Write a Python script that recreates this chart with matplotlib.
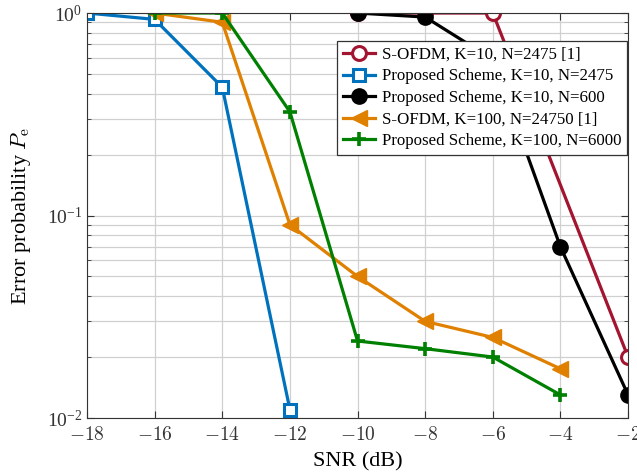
import numpy as np
import matplotlib.pyplot as plt
from matplotlib.ticker import FuncFormatter, LogLocator

plt.rcParams['font.family'] = ['Liberation Serif', 'DejaVu Serif']
plt.rcParams['mathtext.fontset'] = 'cm'

# S-OFDM, K=10, N=2475 [1]
snr_sofdm10 = [-10, -8, -6, -2]
pe_sofdm10 = [1.0, 1.0, 1.0, 0.02]

# Proposed Scheme, K=10, N=2475
snr_prop10a = [-18, -16, -14, -12]
pe_prop10a = [1.0, 0.93, 0.43, 0.011]

# Proposed Scheme, K=10, N=600
snr_prop10b = [-10, -8, -6, -4, -2]
pe_prop10b = [1.0, 0.955, 0.59, 0.07, 0.013]

# S-OFDM, K=100, N=24750 [1]
snr_sofdm100 = [-16, -14, -12, -10, -8, -6, -4]
pe_sofdm100 = [1.0, 0.9, 0.09, 0.05, 0.03, 0.025, 0.0175]

# Proposed Scheme, K=100, N=6000
snr_prop100 = [-16, -14, -12, -10, -8, -6, -4]
pe_prop100 = [1.0, 1.0, 0.325, 0.024, 0.022, 0.02, 0.013]

fig = plt.figure(figsize=(6.37, 4.75), dpi=100)
ax = fig.add_axes([0.1366, 0.12, 0.8494, 0.8526])

lw = 2.3
ax.plot(snr_sofdm10, pe_sofdm10, '-o', color='#A2142F', lw=lw, ms=10,
        mfc='white', mew=2.2, label='S-OFDM, K=10, N=2475 [1]')
ax.plot(snr_prop10a, pe_prop10a, '-s', color='#0072BD', lw=lw, ms=9,
        mfc='white', mew=2.2, label='Proposed Scheme, K=10, N=2475')
ax.plot(snr_prop10b, pe_prop10b, '-o', color='black', lw=lw, ms=11,
        label='Proposed Scheme, K=10, N=600')
ax.plot(snr_sofdm100, pe_sofdm100, '-<', color='#E08000', lw=lw, ms=11,
        label='S-OFDM, K=100, N=24750 [1]')
ax.plot(snr_prop100, pe_prop100, '-+', color='#008000', lw=lw, ms=10,
        mew=2.6, label='Proposed Scheme, K=100, N=6000')

ax.set_yscale('log')
ax.set_xlim(-18, -2)
ax.set_ylim(1e-2, 1)
ax.set_xticks(np.arange(-18, -1, 2))
ax.xaxis.set_major_formatter(FuncFormatter(lambda v, p: r'$%d$' % v))
ax.yaxis.set_minor_locator(LogLocator(base=10, subs=np.arange(2, 10)))
ax.grid(True, which='major', color='#d0d0d0', lw=0.9)
ax.grid(True, which='minor', axis='y', color='#d0d0d0', lw=0.9)
ax.set_axisbelow(True)
ax.tick_params(which='both', direction='in', top=True, right=True,
               labelsize=14, colors='#333333', labelcolor='#333333')
ax.tick_params(axis='x', pad=6)
ax.tick_params(which='major', length=5)
ax.tick_params(which='minor', length=3)
for s in ax.spines.values():
    s.set_color('#333333')

ax.set_xlabel('SNR (dB)', fontsize=16, labelpad=6)
ax.set_ylabel(r'Error probability $P_\mathrm{e}$', fontsize=16, labelpad=10)

leg = ax.legend(loc='upper right', bbox_to_anchor=(0.998, 0.931), fontsize=12.2,
                frameon=True, fancybox=False, edgecolor='#333333', framealpha=1,
                handlelength=1.9, borderpad=0.35, labelspacing=0.33,
                handletextpad=0.4, borderaxespad=0)
leg.get_frame().set_linewidth(0.9)

fig.savefig('out.png', dpi=100)
